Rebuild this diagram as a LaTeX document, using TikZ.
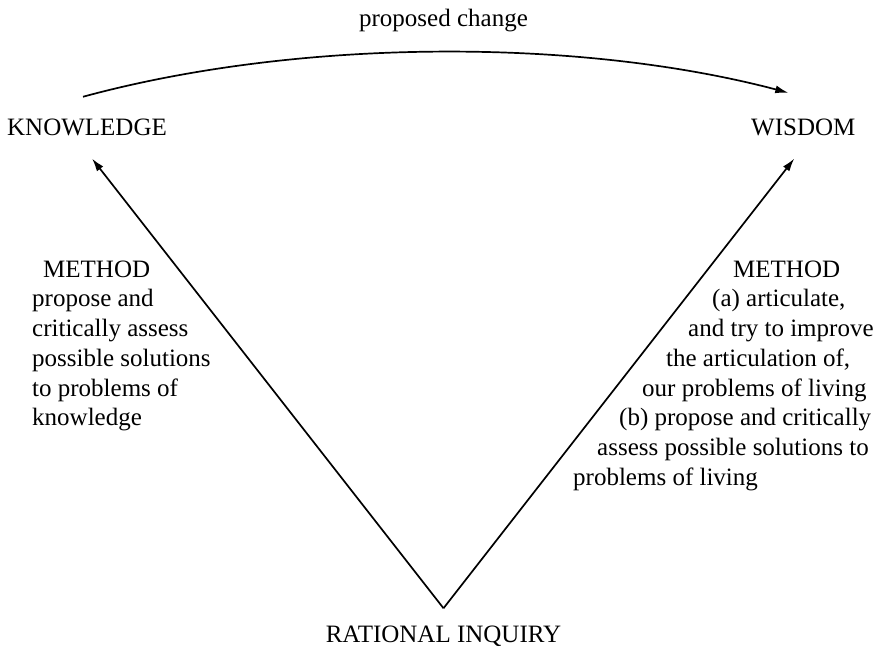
\documentclass[tikz,border=0pt]{standalone}
\usepackage{fontspec}
\setmainfont{Liberation Serif}
\usetikzlibrary{arrows.meta}
\tikzset{
  term/.style={font=\fontsize{25}{29.7}\selectfont, inner sep=0pt},
  block/.style={term, align=left, anchor=north west},
  link/.style={line width=1.7pt, -{Latex[length=13pt,width=8pt]}}
}
\begin{document}
\begin{tikzpicture}[x=1pt,y=-1pt]
    \useasboundingbox (0,0) rectangle (881,647);
    \node[term, anchor=base west] (know) at (7,136) {KNOWLEDGE};
    \node[term, anchor=base west] (wis) at (751,136) {WISDOM};
    \node[term, anchor=base] (change) at (443.5,27) {proposed change};
    \node[term, anchor=base] (inquiry) at (443.5,642) {RATIONAL INQUIRY};
    \coordinate (apex) at ([shift={(0,-17)}]inquiry.north);
    \node[block] (lmethod) at (32,260.5) {\hspace*{11pt}METHOD\\
        propose and\\
        critically assess\\
        possible solutions\\
        to problems of\\
        knowledge};
    \node[block] (rmethod) at (573,260.5) {\hspace*{160pt}METHOD\\
        \hspace*{139pt}(a) articulate,\\
        \hspace*{115pt}and try to improve\\
        \hspace*{93pt}the articulation of,\\
        \hspace*{69pt}our problems of living\\
        \hspace*{46pt}(b) propose and critically\\
        \hspace*{24pt}assess possible solutions to\\
        problems of living};
    \draw[link] ([shift={(-4,-22.5)}]know.north) .. controls +(217,-59) and +(-208,-55) .. ([shift={(-15,-26.5)}]wis.north);
    \draw[link] (apex) -- ([shift={(5,22)}]know.south);
    \draw[link] (apex) -- ([shift={(-9,22)}]wis.south);
\end{tikzpicture}
\end{document}
